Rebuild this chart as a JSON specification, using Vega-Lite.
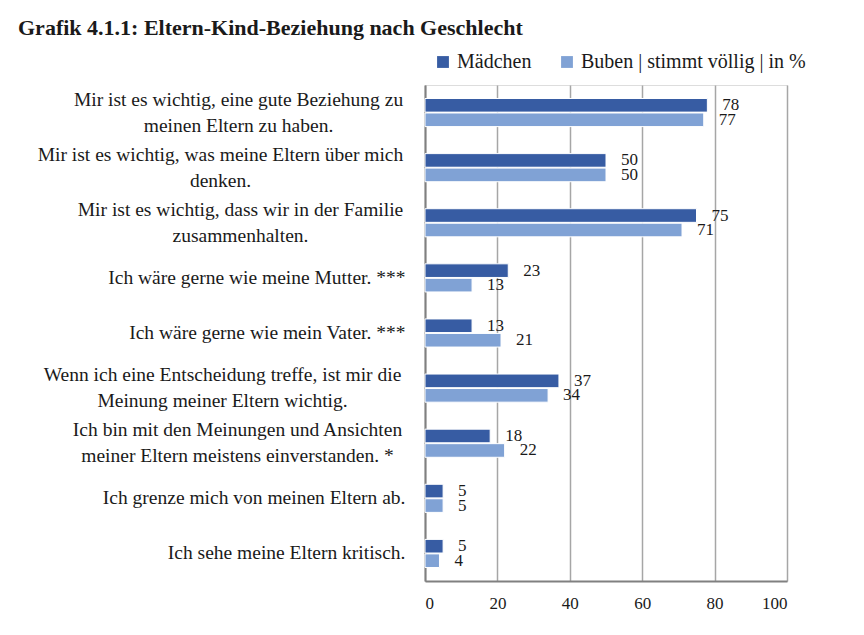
{
  "$schema": "https://vega.github.io/schema/vega-lite/v6.json",
  "width": 362,
  "height": 496,
  "autosize": {"type": "none"},
  "padding": {"left": 425, "top": 85, "right": 77, "bottom": 54},
  "background": "white",
  "title": {
    "text": "Grafik 4.1.1: Eltern-Kind-Beziehung nach Geschlecht",
    "anchor": "start",
    "frame": "group",
    "dx": -407,
    "offset": 12,
    "font": "Liberation Serif",
    "fontSize": 22,
    "fontWeight": "bold",
    "color": "#1a1a1a"
  },
  "data": {
    "values": [
      {"item": "Mir ist es wichtig, eine gute Beziehung zu~meinen Eltern zu haben.", "series": "Mädchen", "value": 78},
      {"item": "Mir ist es wichtig, eine gute Beziehung zu~meinen Eltern zu haben.", "series": "Buben | stimmt völlig | in %", "value": 77},
      {"item": "Mir ist es wichtig, was meine Eltern über mich~denken.", "series": "Mädchen", "value": 50},
      {"item": "Mir ist es wichtig, was meine Eltern über mich~denken.", "series": "Buben | stimmt völlig | in %", "value": 50},
      {"item": "Mir ist es wichtig, dass wir in der Familie~zusammenhalten.", "series": "Mädchen", "value": 75},
      {"item": "Mir ist es wichtig, dass wir in der Familie~zusammenhalten.", "series": "Buben | stimmt völlig | in %", "value": 71},
      {"item": "Ich wäre gerne wie meine Mutter. ***", "series": "Mädchen", "value": 23},
      {"item": "Ich wäre gerne wie meine Mutter. ***", "series": "Buben | stimmt völlig | in %", "value": 13},
      {"item": "Ich wäre gerne wie mein Vater. ***", "series": "Mädchen", "value": 13},
      {"item": "Ich wäre gerne wie mein Vater. ***", "series": "Buben | stimmt völlig | in %", "value": 21},
      {"item": "Wenn ich eine Entscheidung treffe, ist mir die~Meinung meiner Eltern wichtig.", "series": "Mädchen", "value": 37},
      {"item": "Wenn ich eine Entscheidung treffe, ist mir die~Meinung meiner Eltern wichtig.", "series": "Buben | stimmt völlig | in %", "value": 34},
      {"item": "Ich bin mit den Meinungen und Ansichten~meiner Eltern meistens einverstanden. *", "series": "Mädchen", "value": 18},
      {"item": "Ich bin mit den Meinungen und Ansichten~meiner Eltern meistens einverstanden. *", "series": "Buben | stimmt völlig | in %", "value": 22},
      {"item": "Ich grenze mich von meinen Eltern ab.", "series": "Mädchen", "value": 5},
      {"item": "Ich grenze mich von meinen Eltern ab.", "series": "Buben | stimmt völlig | in %", "value": 5},
      {"item": "Ich sehe meine Eltern kritisch.", "series": "Mädchen", "value": 5},
      {"item": "Ich sehe meine Eltern kritisch.", "series": "Buben | stimmt völlig | in %", "value": 4}
    ]
  },
  "encoding": {
    "y": {
      "field": "item",
      "type": "nominal",
      "sort": null,
      "title": null,
      "scale": {"paddingInner": 0.49, "paddingOuter": 0.245},
      "axis": {
        "labelExpr": "split(datum.value, '~')",
        "labelFont": "Liberation Serif",
        "labelFontSize": 19.5,
        "labelColor": "#1a1a1a",
        "labelLineHeight": 26,
        "labelLimit": 0,
        "labelAlign": {
          "condition": {"test": "indexof(datum.value, '~') >= 0", "value": "center"},
          "value": "right"
        },
        "labelOffset": {
          "condition": {"test": "indexof(datum.value, '~') >= 0", "value": -13},
          "value": 0
        },
        "labelPadding": {
          "condition": [
            {"test": "indexof(datum.value, 'eine gute Beziehung') >= 0", "value": 187},
            {"test": "indexof(datum.value, 'über mich') >= 0", "value": 205},
            {"test": "indexof(datum.value, 'Familie') >= 0", "value": 185},
            {"test": "indexof(datum.value, 'Entscheidung') >= 0", "value": 203},
            {"test": "indexof(datum.value, 'Ansichten') >= 0", "value": 188}
          ],
          "value": 20
        },
        "ticks": false,
        "domainColor": "#808080",
        "domainWidth": 2
      }
    },
    "yOffset": {
      "field": "series",
      "type": "nominal",
      "sort": ["Mädchen", "Buben | stimmt völlig | in %"],
      "scale": {"paddingInner": 0.06}
    },
    "x": {
      "field": "value",
      "type": "quantitative",
      "title": null,
      "scale": {"domain": [0, 100], "nice": false},
      "axis": {
        "values": [0, 20, 40, 60, 80, 100],
        "labelFont": "Liberation Serif",
        "labelFontSize": 17,
        "labelColor": "#1a1a1a",
        "labelPadding": 14,
        "ticks": false,
        "domainColor": "#808080",
        "domainWidth": 2,
        "grid": true,
        "gridColor": "#a6a6a6",
        "gridWidth": 1.5
      }
    }
  },
  "layer": [
    {
      "mark": {"type": "bar", "stroke": "white", "strokeWidth": 1},
      "encoding": {
        "color": {
          "field": "series",
          "type": "nominal",
          "scale": {
            "domain": ["Mädchen", "Buben | stimmt völlig | in %"],
            "range": ["#375ca3", "#80a2d5"]
          },
          "legend": {
            "title": null,
            "orient": "none",
            "direction": "horizontal",
            "legendX": 8,
            "legendY": -33,
            "symbolType": "square",
            "symbolSize": 140,
            "symbolStrokeWidth": 0,
            "labelFont": "Liberation Serif",
            "labelFontSize": 20,
            "labelColor": "#1a1a1a",
            "labelLimit": 0,
            "columnPadding": 25,
            "labelOffset": 4
          }
        }
      }
    },
    {
      "mark": {
        "type": "text",
        "align": "left",
        "baseline": "middle",
        "dx": 15,
        "font": "Liberation Serif",
        "fontSize": 17,
        "color": "#1a1a1a"
      },
      "encoding": {
        "text": {"field": "value", "type": "quantitative"}
      }
    }
  ]
}
